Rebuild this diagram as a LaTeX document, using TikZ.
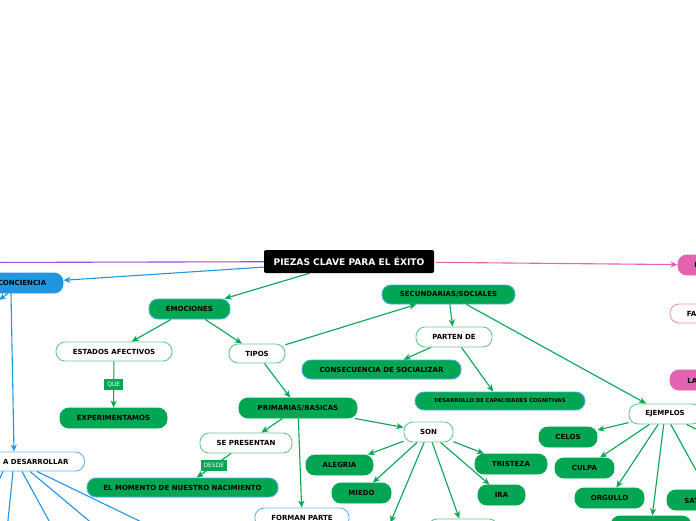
\documentclass[tikz,border=0pt]{standalone}
\usepackage{fontspec}
\setmainfont{DejaVu Sans}
\usetikzlibrary{arrows.meta, positioning}
\definecolor{mgreen}{HTML}{00A651}
\definecolor{lgreen}{HTML}{6CC891}
\definecolor{mblue}{HTML}{2196E0}
\definecolor{mpink}{HTML}{E463B1}
\definecolor{mpurple}{HTML}{9D4EDD}

\begin{document}
\begin{tikzpicture}[
    x=1pt, y=-1pt,
    base/.style={rectangle, rounded corners=9pt, minimum height=20pt, inner sep=0pt, line width=0.9pt, text=black, font=\fontsize{7}{8}\selectfont\bfseries},
    block/.style={base, draw=mgreen, fill=mgreen},
    bblock/.style={base, draw=mblue!80, fill=mgreen},
    wblock/.style={base, draw=lgreen, fill=white},
    wbblock/.style={base, draw=mblue!70, fill=white},
    blueblock/.style={base, draw=mblue, fill=mblue},
    pinkblock/.style={base, draw=mpink, fill=mpink},
    wpinkblock/.style={base, draw=mpink!70, fill=white},
    title/.style={rectangle, rounded corners=2pt, fill=black, text=white, minimum height=23pt, minimum width=170pt, inner sep=0pt, font=\fontsize{9.1}{10}\selectfont\bfseries},
    tag/.style={rectangle, fill=mgreen, text=white, inner xsep=3pt, inner ysep=1.5pt, minimum height=11pt, font=\fontsize{6}{7}\selectfont},
    line/.style={draw=mgreen, line width=1.1pt, -{Stealth[length=7pt, width=6pt, inset=2pt]}},
    bline/.style={draw=mblue, line width=1.1pt, -{Stealth[length=7pt, width=6pt, inset=2pt]}},
    fan/.style={draw=mblue, line width=1.1pt}
]
\path[use as bounding box] (0,0) rectangle (696,520);
\fill[white] (0,0) rectangle (696,520);
\clip (0,0) rectangle (696,520);

% Nodes
\node [title] (main) at (349,261.5) {PIEZAS CLAVE PARA EL ÉXITO};
\node [blueblock, minimum width=82pt] (conciencia) at (22,283) {CONCIENCIA};
\node [wbblock, minimum width=153pt, minimum height=19pt] (desarrollar) at (8,461.5) {HABILIDADES A DESARROLLAR};
\node [pinkblock, minimum width=87pt] (importancia) at (721.5,265) {IMPORTANCIA};
\node [wpinkblock, minimum width=74pt, minimum height=19pt] (factores) at (707,313.5) {FACTORES};
\node [pinkblock, minimum width=81pt] (empatia) at (710.5,380) {LA EMPATÍA};

\node [bblock, minimum width=81pt] (emociones) at (189.5,309) {EMOCIONES};
\node [wblock, minimum width=116pt, minimum height=19pt] (estados) at (114,351.5) {ESTADOS AFECTIVOS};
\node [wblock, minimum width=56pt, minimum height=19pt] (tipos) at (257,353.5) {TIPOS};
\node [block, minimum width=107pt] (experimentamos) at (113.5,418) {EXPERIMENTAMOS};
\node [bblock, minimum width=133pt, minimum height=19pt] (secundarias) at (448.5,294.5) {SECUNDARIAS/SOCIALES};
\node [wblock, minimum width=76pt] (parten) at (454,337) {PARTEN DE};
\node [bblock, minimum width=159pt, minimum height=19pt] (consecuencia) at (381.5,369.5) {CONSECUENCIA DE SOCIALIZAR};
\node [bblock, minimum width=170pt, minimum height=18pt, font=\fontsize{5.3}{6}\selectfont\bfseries] (cognitivas) at (500,401) {DESARROLLO DE CAPACIDADES COGNITIVAS};
\node [wblock, minimum width=72pt] (ejemplos) at (665,414) {EJEMPLOS};

\node [block, minimum width=118pt] (primarias) at (298,408) {PRIMARIAS/BASICAS};
\node [wblock, minimum width=92pt] (presentan) at (246,443) {SE PRESENTAN};
\node [bblock, minimum width=191pt, minimum height=19pt] (momento) at (182.5,487.5) {EL MOMENTO DE NUESTRO NACIMIENTO};
\node [wbblock, minimum width=94pt] (forman) at (302,518) {FORMAN PARTE};
\node [wblock, minimum width=49pt] (son) at (428.5,432) {SON};
\node [block, minimum width=67pt] (alegria) at (339.5,465) {ALEGRIA};
\node [block, minimum width=59pt] (miedo) at (361.5,493) {MIEDO};
\node [block, minimum width=72pt] (tristeza) at (511,464) {TRISTEZA};
\node [block, minimum width=47pt] (ira) at (501.5,495) {IRA};
\node [block, minimum width=70pt] (sorpresa) at (386,533) {SORPRESA};
\node [wblock, minimum width=70pt] (asco) at (463,529) {ASCO};

\node [block, minimum width=58pt] (celos) at (568,437) {CELOS};
\node [block, minimum width=59pt] (culpa) at (584.5,468) {CULPA};
\node [block, minimum width=69pt] (orgullo) at (609.5,498) {ORGULLO};
\node [block, minimum width=80pt] (verguenza) at (651,526) {VERGÜENZA};
\node [block, minimum width=91pt] (satisfaccion) at (712.5,500) {SATISFACCIÓN};
\node [block, minimum width=70pt] (envidia) at (760,460) {ENVIDIA};

\coordinate (leftend) at (-20,262.5);
\coordinate (cleft) at (-1,300);
\coordinate (fan1) at (-10,500);
\coordinate (fan2) at (7,530);
\coordinate (fan3) at (54,530);
\coordinate (fan4) at (100,530);
\coordinate (fan5) at (158,530);

% Lines
\path [draw=mpurple, line width=1.1pt] (main) -- (leftend);
\path [draw=mpink, line width=1.1pt, -{Stealth[length=7pt, width=6pt, inset=2pt]}, shorten <=2pt] (main) -- (importancia);
\path [bline] (main) -- (conciencia);
\path [bline] ([xshift=-14pt]conciencia.south) -- (cleft);
\path [bline] ([xshift=-11pt]conciencia.south) -- ([xshift=6pt]desarrollar.north);
\path [fan] ([xshift=-5pt]desarrollar.south) -- (fan1);
\path [fan] ([xshift=5pt]desarrollar.south) -- (fan2);
\path [fan] ([xshift=14pt]desarrollar.south) -- (fan3);
\path [fan] ([xshift=22pt]desarrollar.south) -- (fan4);
\path [fan] ([xshift=29pt]desarrollar.south) -- (fan5);

\path [line] (main) -- (emociones);
\path [line] (emociones) -- (estados);
\path [line] (emociones) -- (tipos);
\path [line] (estados) -- node [tag] {QUE} (experimentamos);
\path [line] (tipos) -- (secundarias);
\path [line] (tipos) -- (primarias);
\path [line] (secundarias) -- (parten);
\path [line] (secundarias) -- (ejemplos);
\path [line] (parten) -- (consecuencia);
\path [line] (parten) -- (cognitivas);
\path [line] (primarias) -- (presentan);
\path [line] (presentan) -- node [tag] {DESDE} (momento);
\path [line] (primarias) -- (forman);
\path [line] (primarias) -- (son);
\path [line] (son) -- (alegria);
\path [line] (son) -- (miedo);
\path [line] (son) -- (tristeza);
\path [line] (son) -- (ira);
\path [line] (son) -- (sorpresa);
\path [line] (son) -- (asco);
\path [line] (ejemplos) -- (celos);
\path [line] (ejemplos) -- (culpa);
\path [line] (ejemplos) -- (orgullo);
\path [line] (ejemplos) -- (verguenza);
\path [line] (ejemplos) -- (satisfaccion);
\path [line] (ejemplos) -- (envidia);

\end{tikzpicture}
\end{document}
